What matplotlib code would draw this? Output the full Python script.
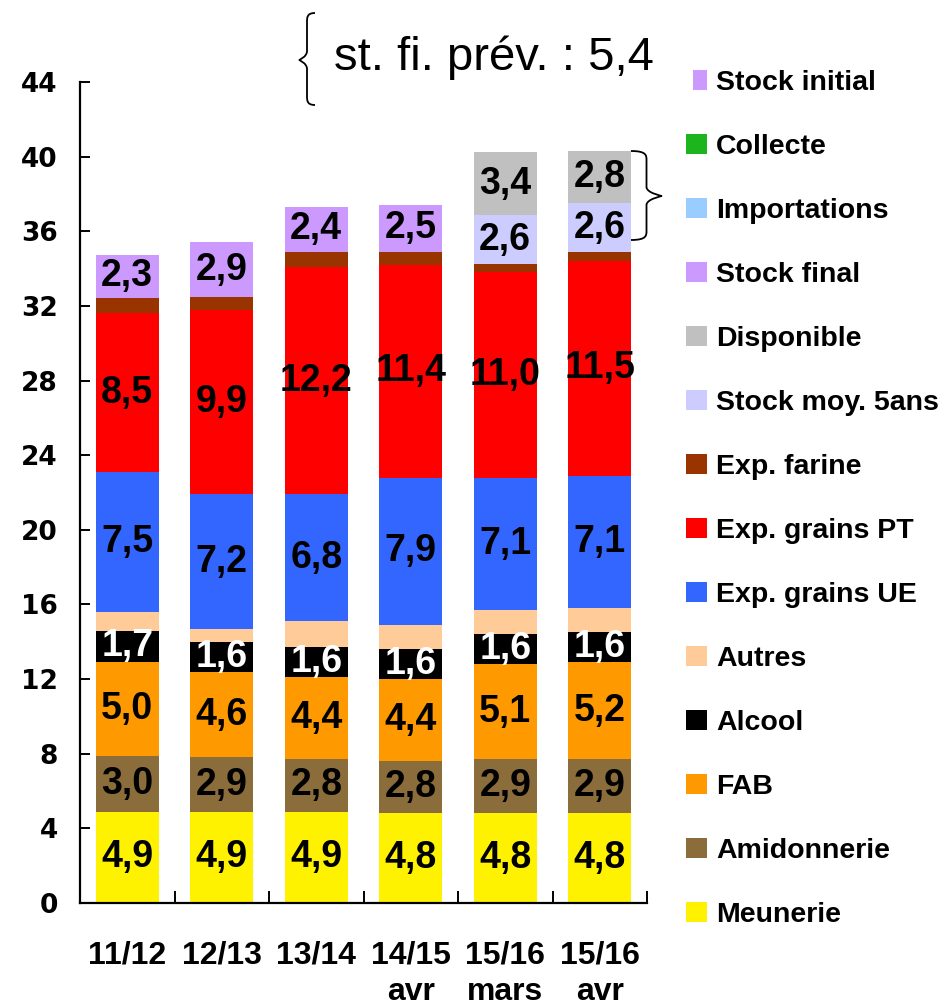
import numpy as np
import matplotlib
matplotlib.use("Agg")
import matplotlib.pyplot as plt
from matplotlib.patches import Rectangle, PathPatch
from matplotlib.path import Path

W, H = 944, 1008

# campagnes
categories = ["11/12", "12/13", "13/14", "14/15\navr", "15/16\nmars", "15/16\navr"]

# utilisations (Mt), de bas en haut
meunerie = [4.9, 4.9, 4.9, 4.8, 4.8, 4.8]
amidonnerie = [3.0, 2.9, 2.8, 2.8, 2.9, 2.9]
fab = [5.0, 4.6, 4.4, 4.4, 5.1, 5.2]
alcool = [1.7, 1.6, 1.6, 1.6, 1.6, 1.6]
autres = [1.0, 0.7, 1.4, 1.3, 1.3, 1.3]
exp_ue = [7.5, 7.2, 6.8, 7.9, 7.1, 7.1]
exp_pt = [8.5, 9.9, 12.2, 11.4, 11.0, 11.5]
exp_farine = [0.85, 0.7, 0.8, 0.7, 0.45, 0.5]
stock_moy = [0, 0, 0, 0, 2.6, 2.6]
disponible = [0, 0, 0, 0, 3.4, 2.8]
stock_final = [2.3, 2.9, 2.4, 2.5, 0, 0]

stock_fin_prev = 5.4

# (nom, valeurs, couleur, étiquette affichée, couleur du texte)
series = [
    ("Meunerie", meunerie, "#FFF200", True, "black"),
    ("Amidonnerie", amidonnerie, "#8B6D3C", True, "black"),
    ("FAB", fab, "#FF9900", True, "black"),
    ("Alcool", alcool, "#000000", True, "white"),
    ("Autres", autres, "#FFCC99", False, "black"),
    ("Exp. grains UE", exp_ue, "#3366FF", True, "black"),
    ("Exp. grains PT", exp_pt, "#FF0000", True, "black"),
    ("Exp. farine", exp_farine, "#993300", False, "black"),
    ("Stock moy. 5ans", stock_moy, "#CCCCFF", True, "black"),
    ("Disponible", disponible, "#C0C0C0", True, "black"),
    ("Stock final", stock_final, "#CC99FF", True, "black"),
]

legend_items = [
    ("Stock initial", "#CC99FF"),
    ("Collecte", "#1DB51D"),
    ("Importations", "#99CCFF"),
    ("Stock final", "#CC99FF"),
    ("Disponible", "#C0C0C0"),
    ("Stock moy. 5ans", "#CCCCFF"),
    ("Exp. farine", "#993300"),
    ("Exp. grains PT", "#FF0000"),
    ("Exp. grains UE", "#3366FF"),
    ("Autres", "#FFCC99"),
    ("Alcool", "#000000"),
    ("FAB", "#FF9900"),
    ("Amidonnerie", "#8B6D3C"),
    ("Meunerie", "#FFF200"),
]

SANS = ["Liberation Sans", "DejaVu Sans"]


def fx(px):
    return px / W


def fy(py):
    return 1 - py / H


def virgule(v):
    return f"{v:.1f}".replace(".", ",")


fig = plt.figure(figsize=(W / 100, H / 100), dpi=100)
ax = fig.add_axes([fx(80), fy(903), fx(647 - 80), (903 - 82) / H])

x = np.arange(len(categories))
bottom = np.zeros(len(categories))
for name, vals, color, show, tcol in series:
    vals = np.array(vals, dtype=float)
    bars = ax.bar(x, vals, 0.667, bottom=bottom, color=color, linewidth=0)
    if show:
        labels = [virgule(v) if v > 0 else "" for v in vals]
        ax.bar_label(bars, labels=labels, label_type="center", color=tcol,
                     fontsize=27, fontweight="bold", family=SANS)
    bottom += vals

ax.set_xlim(-0.5, 5.5)
ax.set_ylim(0, 44)
for side in ("top", "right"):
    ax.spines[side].set_visible(False)
for side in ("left", "bottom"):
    ax.spines[side].set_linewidth(1.6)

ax.set_yticks(np.arange(0, 45, 4))
ax.tick_params(axis="y", direction="in", length=7, width=1.4, pad=16)
for lab in ax.get_yticklabels():
    lab.set_fontfamily("DejaVu Sans")
    lab.set_fontweight("bold")
    lab.set_fontsize(19)

ax.set_xticks(x)
ax.set_xticklabels(categories, fontsize=23, fontweight="bold", family=SANS,
                   linespacing=1.3)
ax.tick_params(axis="x", which="major", length=0, pad=27)
ax.set_xticks(np.arange(0.5, 6, 1), minor=True)
ax.tick_params(axis="x", which="minor", direction="in", length=9, width=1.4)


def brace(x_end, x_tip, y0, y1, ym):
    # accolade verticale, pointe vers x_tip
    xs = (x_end + x_tip) / 2
    r = 9
    verts = [
        (x_end, y0), (xs, y0), (xs, y0 + r / 2), (xs, y0 + r),
        (xs, ym - r),
        (xs, ym - r / 3), (x_tip, ym), (x_tip, ym),
        (x_tip, ym), (xs, ym + r / 3), (xs, ym + r),
        (xs, y1 - r),
        (xs, y1 - r / 2), (xs, y1), (x_end, y1),
    ]
    codes = [Path.MOVETO, Path.CURVE4, Path.CURVE4, Path.CURVE4,
             Path.LINETO,
             Path.CURVE4, Path.CURVE4, Path.CURVE4,
             Path.CURVE4, Path.CURVE4, Path.CURVE4,
             Path.LINETO,
             Path.CURVE4, Path.CURVE4, Path.CURVE4]
    path = Path([(fx(a), fy(b)) for a, b in verts], codes)
    fig.add_artist(PathPatch(path, transform=fig.transFigure, fill=False,
                             lw=1.3, edgecolor="black"))


brace(315, 299, 13, 105, 60)
brace(631, 662, 151, 240, 196)
fig.text(fx(334), fy(70), "st. fi. prév. : " + virgule(stock_fin_prev),
         fontsize=34, family=SANS, va="baseline", ha="left")

# légende
for i, (name, color) in enumerate(legend_items):
    yc = 80 + 64 * i
    if i == 0:
        x0, w = 693, 14
    else:
        x0, w = 686, 21
    fig.add_artist(Rectangle((fx(x0), fy(yc + 10)), w / W, 20 / H,
                             transform=fig.transFigure, color=color, lw=0))
    fig.text(fx(716), fy(yc + 10.5), name, fontsize=20.5, fontweight="bold",
             family=SANS, va="baseline", ha="left")

fig.savefig("out.png", dpi=100, facecolor="white")
